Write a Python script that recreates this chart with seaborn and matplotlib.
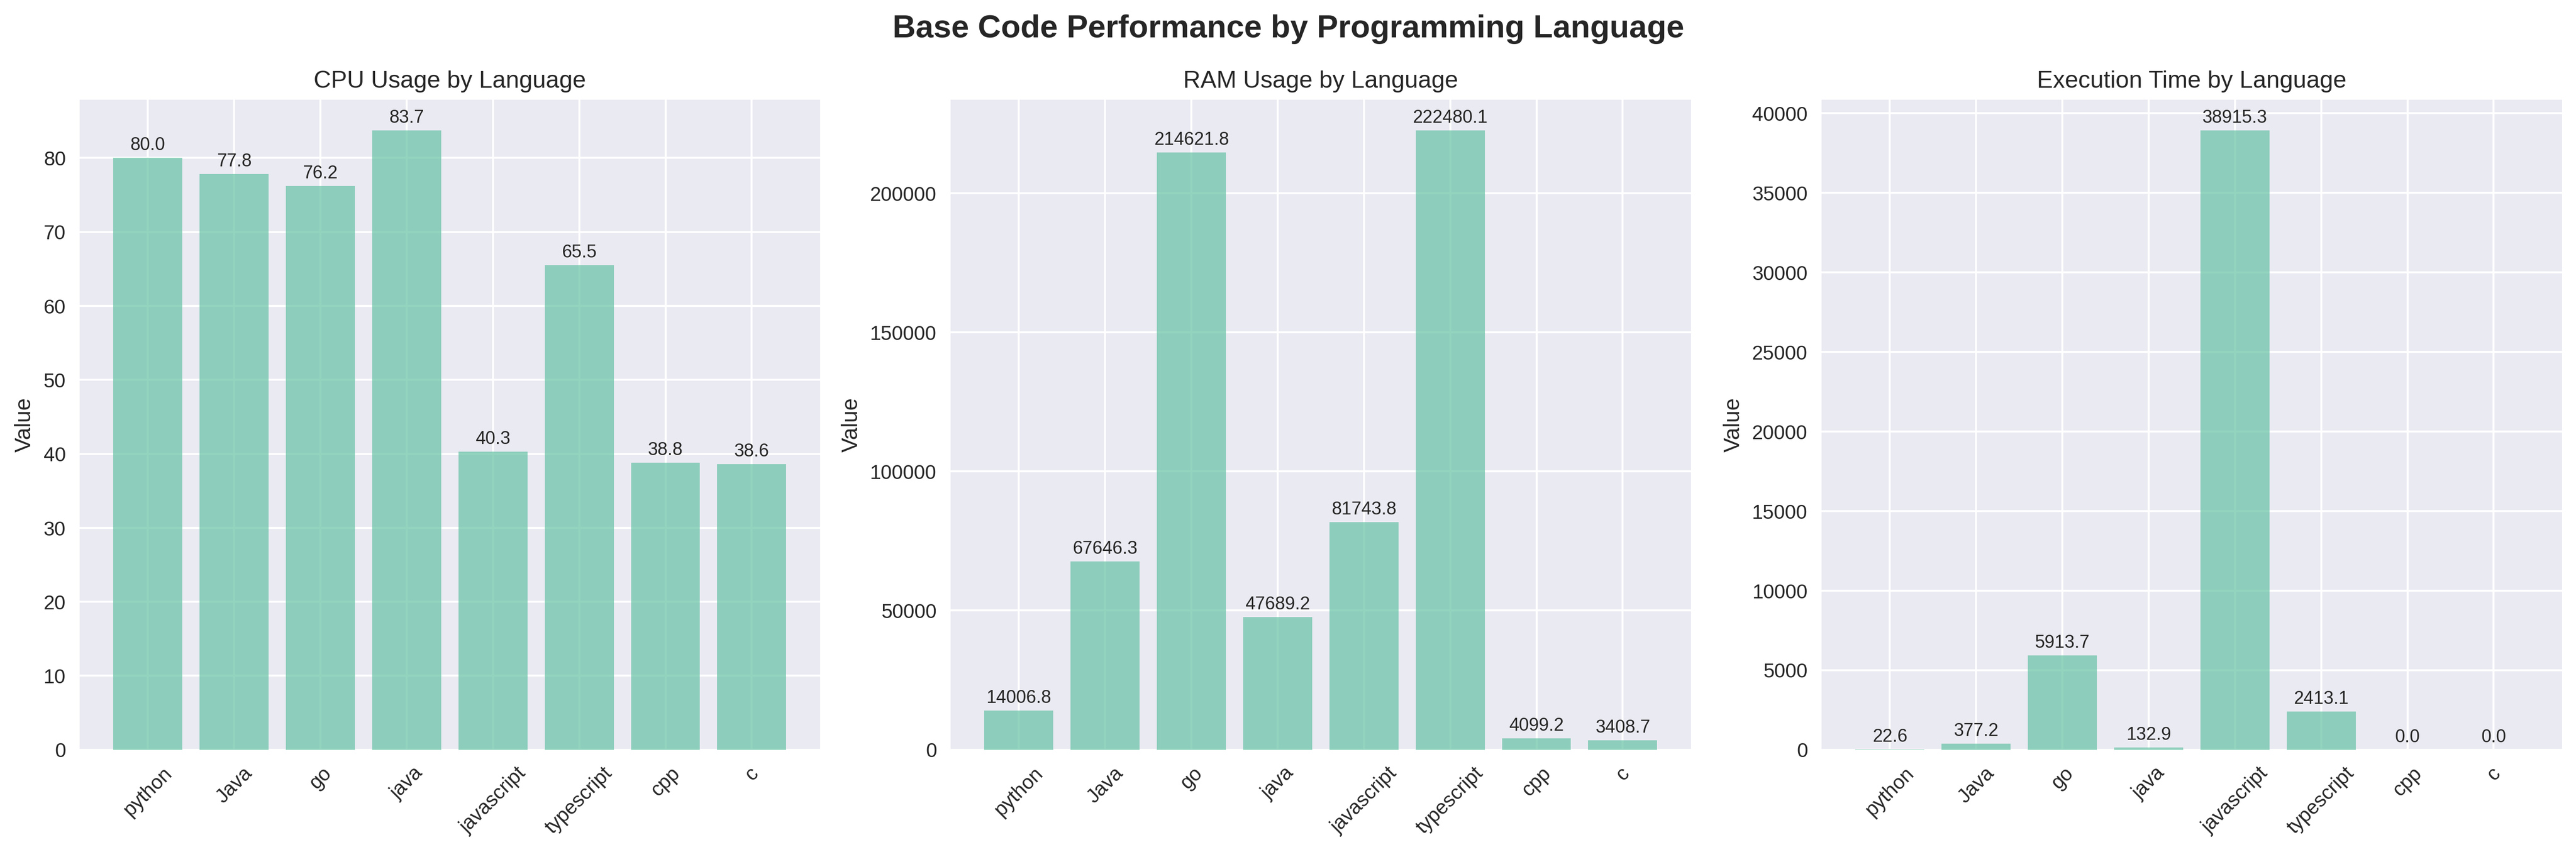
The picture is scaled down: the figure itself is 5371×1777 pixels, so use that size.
import matplotlib
matplotlib.use("Agg")
import matplotlib.pyplot as plt
import seaborn as sns
import pandas as pd

# data
languages = ["python", "Java", "go", "java", "javascript", "typescript", "cpp", "c"]
cpu_usage = [80.0, 77.8, 76.2, 83.7, 40.3, 65.5, 38.8, 38.6]
ram_usage = [14006.8, 67646.3, 214621.8, 47689.2, 81743.8, 222480.1, 4099.2, 3408.7]
exec_time = [22.6, 377.2, 5913.7, 132.9, 38915.3, 2413.1, 0.0, 0.0]
titles = ["CPU Usage by Language", "RAM Usage by Language", "Execution Time by Language"]

plt.style.use("seaborn-v0_8")
plt.rcParams["font.family"] = ["Liberation Sans", "DejaVu Sans"]
bar_color = sns.color_palette("Set2")[0]

fig, axes = plt.subplots(1, 3, figsize=(18, 6))
for ax, values, title in zip(axes, [cpu_usage, ram_usage, exec_time], titles):
    df = pd.DataFrame({"language": languages, "value": values})
    sns.barplot(data=df, x="language", y="value", color=bar_color, alpha=0.7,
                saturation=1, width=0.8, ax=ax)
    ax.bar_label(ax.containers[0], fmt="%.1f", padding=2, fontsize=9)
    ax.set_title(title, fontsize=12)
    ax.set_xlabel("")
    ax.set_ylabel("Value", fontsize=11)
    ax.tick_params(axis="x", rotation=45, labelsize=10)
    ax.tick_params(axis="y", labelsize=10)
    # plain matplotlib-like x padding and vertical grid lines
    ax.margins(x=0.05, y=0.05)
    ax.autoscale(enable=True, axis="x")
    ax.grid(True, axis="both")
    ax.set_axisbelow(True)

fig.suptitle("Base Code Performance by Programming Language", fontsize=16, fontweight="bold")
plt.tight_layout()
plt.savefig("out.png", dpi=300, bbox_inches="tight")
plt.close()
